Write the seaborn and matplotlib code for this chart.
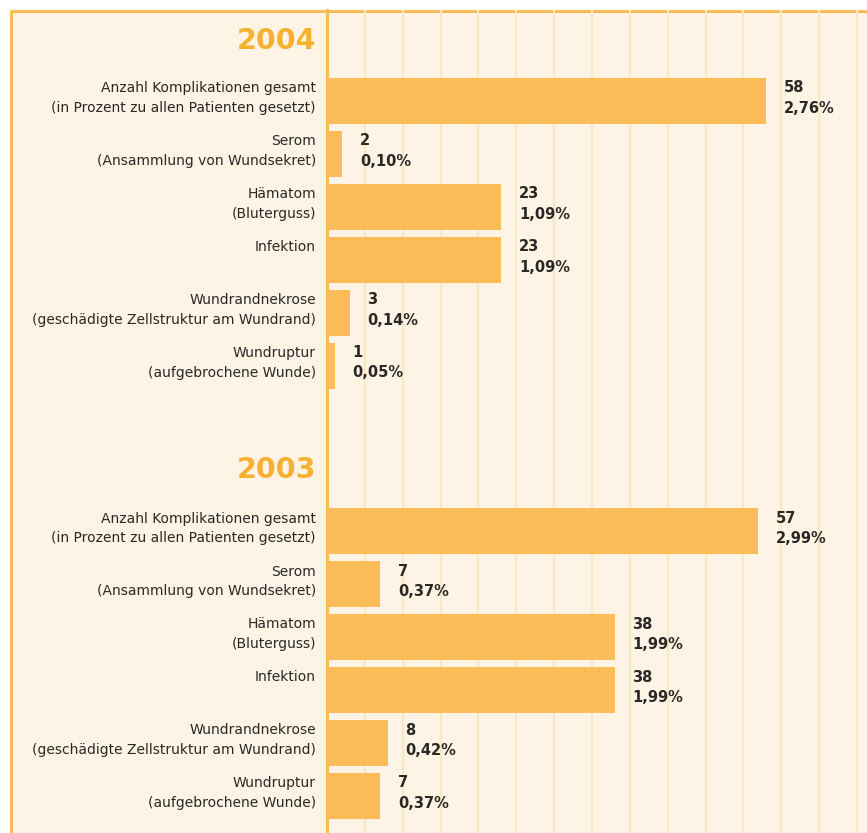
import numpy as np
import pandas as pd
import seaborn as sns
import matplotlib
matplotlib.use("Agg")
import matplotlib.pyplot as plt
from matplotlib.patches import Rectangle
from matplotlib.lines import Line2D

# ---- data ----
years = ["2004", "2003"]
categories = [
    "Anzahl Komplikationen gesamt\n(in Prozent zu allen Patienten gesetzt)",
    "Serom\n(Ansammlung von Wundsekret)",
    "Hämatom\n(Bluterguss)",
    "Infektion\n",
    "Wundrandnekrose\n(geschädigte Zellstruktur am Wundrand)",
    "Wundruptur\n(aufgebrochene Wunde)",
]
counts_2004 = [58, 2, 23, 23, 3, 1]
pct_2004 = ["2,76%", "0,10%", "1,09%", "1,09%", "0,14%", "0,05%"]
counts_2003 = [57, 7, 38, 38, 8, 7]
pct_2003 = ["2,99%", "0,37%", "1,99%", "1,99%", "0,42%", "0,37%"]

# ---- style ----
BAR = "#FCBC58"
GOLD = "#F8B030"
CREAM = "#FEF4E6"
GRID = "#FDE6C4"
BORDER = "#FCBC58"
TXT = "#2A2826"

sns.set_theme(style="white")
plt.rcParams["font.family"] = ["DejaVu Sans"]

W, H = 867, 833
fig = plt.figure(figsize=(W / 100, H / 100), dpi=100)
fig.patch.set_facecolor("white")

# panel background + border (drawn beneath the axes so gridlines cut the top border)
top = (H - 11) / H
fig.add_artist(Rectangle((10 / W, 0), 1, top, transform=fig.transFigure,
                         facecolor=CREAM, edgecolor="none", zorder=-3))
fig.add_artist(Line2D([10 / W, 1], [top, top], transform=fig.transFigure,
                      color=BORDER, lw=2.2, zorder=-2, solid_capstyle="butt"))
fig.add_artist(Line2D([11 / W, 11 / W], [0, top + 1.1 / H], transform=fig.transFigure,
                      color=BORDER, lw=2.2, zorder=-2, solid_capstyle="butt"))

ax = fig.add_axes([327 / W, 0, 1 - 327 / W, (H - 10) / H])
ax.set_facecolor("none")

# layout positions (row units)
n = len(categories)
pos_2004 = [float(i) for i in range(n)]
pos_2003 = [8.13 + i for i in range(n)]
title_pos = [-1.13, 6.98]

df = pd.DataFrame({
    "pos": pos_2004 + pos_2003,
    "count": counts_2004 + counts_2003,
})

sns.barplot(data=df, x="count", y="pos", orient="y", native_scale=True,
            width=46 / 53, color=BAR, saturation=1, linewidth=0,
            errorbar=None, ax=ax, zorder=3)

ax.set_xlim(0, 540 / 7.57)
ax.set_ylim(13.83, -1.717)

# grid
ax.set_xticks(np.arange(0, 75, 5))
ax.set_xticklabels([])
ax.xaxis.grid(True, color=GRID, lw=1.6, zorder=0)
ax.yaxis.grid(False)
ax.set_axisbelow(True)
ax.tick_params(axis="x", length=0)
ax.set_yticks([])
ax.set_xlabel("")
ax.set_ylabel("")

for s in ["top", "right", "bottom"]:
    ax.spines[s].set_visible(False)
ax.spines["left"].set_color(BORDER)
ax.spines["left"].set_linewidth(2.2)

ytr = ax.get_yaxis_transform()
# category labels
for poss in (pos_2004, pos_2003):
    for p, lab in zip(poss, categories):
        ax.annotate(lab, xy=(0, p), xycoords=ytr, xytext=(-8, 2),
                    textcoords="offset points", ha="right", va="center",
                    multialignment="right", fontsize=10, color=TXT,
                    linespacing=1.52, annotation_clip=False)

# value labels
for poss, cnts, pcts in [(pos_2004, counts_2004, pct_2004), (pos_2003, counts_2003, pct_2003)]:
    for p, c, t in zip(poss, cnts, pcts):
        ax.annotate(f"{c}\n{t}", xy=(c, p), xytext=(12.8, 2), textcoords="offset points",
                    ha="left", va="center", fontsize=10.5, fontweight="bold",
                    color=TXT, linespacing=1.45)

# year titles
for y, tp in zip(years, title_pos):
    ax.annotate(y, xy=(0, tp), xycoords=ytr, xytext=(-8, 0),
                textcoords="offset points", ha="right", va="center",
                fontsize=20.5, fontweight="bold", color=GOLD, annotation_clip=False)

fig.savefig("out.png", dpi=100, facecolor="white")
